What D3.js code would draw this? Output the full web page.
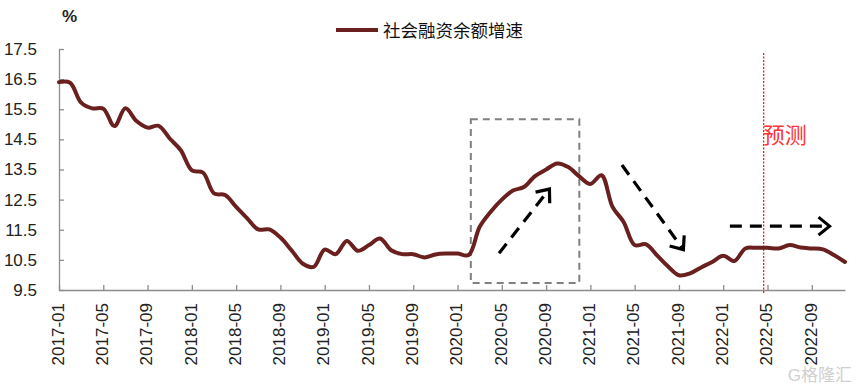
<!DOCTYPE html>
<html>
<head>
<meta charset="utf-8">
<script src="https://cdn.jsdelivr.net/npm/d3@7"></script>
<style>
  html, body { margin: 0; padding: 0; background: #fff; }
  svg { display: block; }
  text { font-family: "Liberation Sans", Arial, "Noto Sans CJK SC", sans-serif; }
</style>
</head>
<body>
<svg id="chart" width="859" height="389"></svg>
<script>
// ---------- data ----------
const seriesName = "社会融资余额增速";
const unitLabel = "%";
const forecastLabel = "预测";
const startYear = 2017, endYear = 2022;
const months = [];
for (let y = startYear; y <= endYear; y++) for (let m = 1; m <= 12; m++) months.push(y + "-" + String(m).padStart(2, "0"));
const tickLabels = months.filter((d, i) => i % 4 === 0);
const yTicks = [9.5, 10.5, 11.5, 12.5, 13.5, 14.5, 15.5, 16.5, 17.5];
const values = [
  16.40, 16.38, 15.72, 15.53, 15.52, 14.94, 15.53, 15.11, 14.89, 14.95, 14.53, 14.14,
  13.47, 13.40, 12.71, 12.65, 12.26, 11.88, 11.51, 11.51, 11.24, 10.82, 10.38, 10.27,
  10.84, 10.69, 11.13, 10.80, 10.99, 11.21, 10.82, 10.69, 10.69, 10.58, 10.68, 10.71,
  10.71, 10.66, 11.60, 12.10, 12.50, 12.80, 12.92, 13.28, 13.50, 13.70, 13.58, 13.27,
  13.02, 13.31, 12.26, 11.76, 10.99, 11.02, 10.66, 10.29, 9.99, 10.05, 10.25, 10.43,
  10.64, 10.46, 10.88, 10.90, 10.90, 10.88, 10.99, 10.91, 10.88, 10.85, 10.66, 10.43
];
// annotations in (month index, value) space
const forecastIndex = 63.65;
const highlightBox = { i0: 37.2, i1: 47.0, v0: 9.73, v1: 15.17 };
const arrows = [
  { i0: 39.75, v0: 10.72, i1: 44.3, v1: 12.85 },
  { i0: 50.85, v0: 13.65, i1: 56.4, v1: 10.84 },
  { i0: 60.6, v0: 11.62, i1: 69.6, v1: 11.62 }
];

// ---------- scales ----------
const svg = d3.select("#chart");
svg.append("rect").attr("width", 859).attr("height", 389).attr("fill", "#fff");
const x = d3.scalePoint().domain(months).range([59, 845]);
const xi = d3.scaleLinear().domain([0, months.length - 1]).range([59, 845]);
const y = d3.scaleLinear().domain([9.5, 17.5]).range([290, 49]);
const axisColor = "#8c8c8c";

// ---------- axes ----------
const yAxis = svg.append("g").attr("transform", "translate(59,0)")
  .call(d3.axisLeft(y).tickValues(yTicks).tickFormat(d3.format(".1f")).tickSizeInner(-5).tickSizeOuter(0).tickPadding(22));
yAxis.select(".domain").attr("stroke", axisColor).attr("stroke-width", 1.3);
yAxis.selectAll(".tick line").attr("stroke", axisColor).attr("stroke-width", 1.3);
yAxis.selectAll(".tick text").attr("font-size", 17).attr("fill", "#222")
  .attr("font-family", "'Liberation Sans', Arial, sans-serif");

const xAxis = svg.append("g").attr("transform", "translate(0,290)")
  .call(d3.axisBottom(x).tickValues(tickLabels).tickSizeInner(-5).tickSizeOuter(0));
xAxis.select(".domain").attr("stroke", axisColor).attr("stroke-width", 1.3);
xAxis.selectAll(".tick line").attr("stroke", axisColor).attr("stroke-width", 1.3);
xAxis.selectAll(".tick text")
  .attr("font-size", 17).attr("fill", "#222")
  .attr("font-family", "'Liberation Sans', Arial, sans-serif")
  .attr("text-anchor", "end")
  .attr("transform", "rotate(-90)")
  .attr("x", -13).attr("y", 0).attr("dy", "0.25em");

// ---------- highlight box ----------
svg.append("rect")
  .attr("x", xi(highlightBox.i0)).attr("y", y(highlightBox.v1))
  .attr("width", xi(highlightBox.i1) - xi(highlightBox.i0))
  .attr("height", y(highlightBox.v0) - y(highlightBox.v1))
  .attr("fill", "none").attr("stroke", "#808080").attr("stroke-width", 2)
  .attr("stroke-dasharray", "7,5");

// ---------- forecast line ----------
svg.append("line")
  .attr("x1", xi(forecastIndex)).attr("x2", xi(forecastIndex))
  .attr("y1", y(17.37)).attr("y2", y(9.4))
  .attr("stroke", "#ff1a1a").attr("stroke-width", 1.3).attr("stroke-dasharray", "2,1.5");
svg.append("text")
  .attr("x", xi(forecastIndex) - 1).attr("y", 143)
  .attr("font-family", "'Noto Sans CJK SC', sans-serif")
  .attr("font-size", 22).attr("fill", "#ff3333").text(forecastLabel);

// ---------- series line ----------
svg.append("path")
  .datum(values)
  .attr("fill", "none").attr("stroke", "#6b2020").attr("stroke-width", 4)
  .attr("stroke-linejoin", "round").attr("stroke-linecap", "round")
  .attr("d", d3.line().x((d, i) => x(months[i])).y(d => y(d)).curve(d3.curveCatmullRom.alpha(0.5)));

// ---------- arrows ----------
const defs = svg.append("defs");
defs.append("marker").attr("id", "chev")
  .attr("markerUnits", "userSpaceOnUse").attr("orient", "auto")
  .attr("viewBox", "-16 -12 20 24").attr("markerWidth", 20).attr("markerHeight", 24)
  .attr("refX", 0).attr("refY", 0)
  .append("path").attr("d", "M-11,-9 L0,0 L-11,9")
  .attr("fill", "none").attr("stroke", "#000").attr("stroke-width", 3.2)
  .attr("stroke-linejoin", "miter").attr("stroke-dasharray", "none");
svg.append("g").selectAll("line").data(arrows).join("line")
  .attr("x1", d => xi(d.i0)).attr("y1", d => y(d.v0))
  .attr("x2", d => xi(d.i1)).attr("y2", d => y(d.v1))
  .attr("stroke", "#000").attr("stroke-width", 3.2).attr("stroke-dasharray", "12,8")
  .attr("marker-end", "url(#chev)");

// ---------- legend & unit ----------
svg.append("text").attr("x", 62).attr("y", 22).attr("font-size", 17).attr("font-weight", "bold")
  .attr("fill", "#222").text(unitLabel);
svg.append("line").attr("x1", 336).attr("x2", 378).attr("y1", 30).attr("y2", 30)
  .attr("stroke", "#6b2020").attr("stroke-width", 4);
svg.append("text").attr("x", 383).attr("y", 36.5)
  .attr("font-family", "'Noto Sans CJK SC', sans-serif")
  .attr("font-size", 17.5).attr("fill", "#111").text(seriesName);

// ---------- watermark ----------
svg.append("text").attr("x", 852).attr("y", 381).attr("text-anchor", "end")
  .attr("font-family", "'Noto Sans CJK SC', sans-serif").attr("font-size", 17)
  .attr("fill", "#d0d0d0").text("G格隆汇");
</script>
</body>
</html>
